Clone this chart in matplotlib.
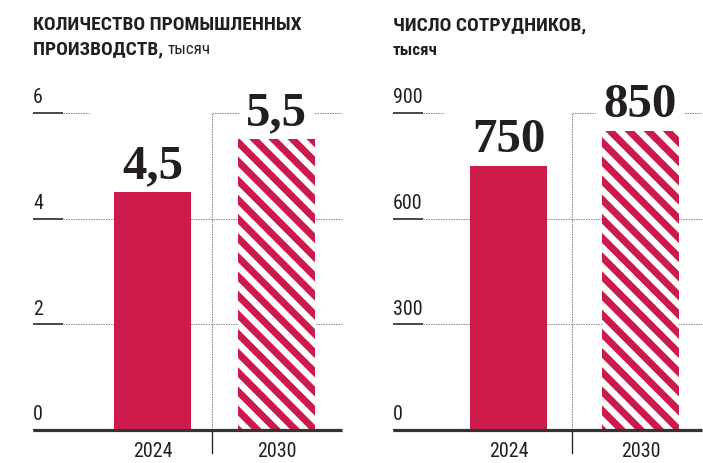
import matplotlib
matplotlib.use("Agg")
import matplotlib.pyplot as plt
from matplotlib.transforms import blended_transform_factory

# data
years = ["2024", "2030"]
plants = [4.5, 5.5]
plant_labels = ["4,5", "5,5"]
plant_ticks = [0, 2, 4, 6]
staff = [750, 850]
staff_labels = ["750", "850"]
staff_ticks = [0, 300, 600, 900]

RED = "#cc1a4a"
INK = "#231f20"
GRID = "#8a8a8a"
DPI = 115
W, H = 703, 463

COND = ["Roboto Condensed", "DejaVu Sans"]
SERIF = ["Liberation Serif", "DejaVu Serif"]

plt.rcParams["hatch.linewidth"] = 4.4
plt.rcParams["hatch.color"] = RED


def pt(px):
    return px * 72 / DPI


fig = plt.figure(figsize=(W / DPI, H / DPI), dpi=DPI)


def panel(x0, x1, c0, c1, values, labels, ticks, bar_px=77):
    # axes placed in pixel coordinates: axis line at y=430, top tick at y=113
    ax = fig.add_axes([x0 / W, (H - 430) / H, (x1 - x0) / W, (430 - 113) / H])
    scale = c1 - c0
    ax.set_xlim(-(c0 - x0) / scale, 1 + (x1 - c1) / scale)
    ax.set_ylim(0, ticks[-1])
    ax.axis("off")
    w = bar_px / scale
    xs = [0, 1]
    sep = 0.48

    tr = blended_transform_factory(ax.transAxes, ax.transData)
    seg = 30 / (x1 - x0)
    xl = ax.get_xlim()
    for t in ticks:
        ax.plot([0, seg], [t, t], transform=tr, color=INK, lw=pt(1.6),
                solid_capstyle="butt", clip_on=False, zorder=3)
        ax.text(0, t + ticks[-1] * 0.018, str(t), transform=tr, ha="left", va="bottom",
                fontsize=pt(20), color=INK, family=COND)
        if t == 0:
            continue
        if t == ticks[-1]:
            ax.plot([xl[0] + seg * (xl[1] - xl[0]), xs[0] - w / 2 - 0.2], [t, t],
                    color=GRID, lw=pt(1), ls=(0, (1.5, 1)), zorder=1, clip_on=False)
            ax.plot([sep, xl[1]], [t, t], color=GRID, lw=pt(1), ls=(0, (1.5, 1)),
                    zorder=1, clip_on=False)
        else:
            ax.plot([seg, 1], [t, t], transform=tr, color=GRID, lw=pt(1),
                    ls=(0, (1.5, 1)), zorder=1, clip_on=False)

    ax.bar(xs[0], values[0], width=w, color=RED, zorder=5)
    ax.bar(xs[1], values[1], width=w, facecolor="white", edgecolor=RED,
           linewidth=0, hatch="\\\\", zorder=5)

    for x, v, lab in zip(xs, values, labels):
        ax.annotate(lab, (x, v), xytext=(0, pt(14)), textcoords="offset points",
                    ha="center", va="baseline", fontsize=pt(49), fontweight="bold",
                    family=SERIF, color=INK, zorder=4,
                    bbox=dict(boxstyle="square,pad=0.15", fc="white", ec="none"))

    # separator between years
    ax.plot([sep, sep], [0, ticks[-1]], color=GRID, lw=pt(1), ls=(0, (1.5, 1)),
            zorder=1, clip_on=False)
    ax.plot([sep, sep], [0, -ticks[-1] * 23 / 317], color=INK, lw=pt(1.3),
            zorder=3, clip_on=False)
    # axis line
    ax.plot([0, 1], [0, 0], transform=tr, color="#333333", lw=pt(3.2),
            solid_capstyle="butt", zorder=6, clip_on=False)

    for x, yr in zip(xs, years):
        ax.text(x, -ticks[-1] * 12 / 317, yr, ha="center", va="top",
                fontsize=pt(20), color=INK, family=COND)
    return ax


panel(33, 342, 152.5, 276.5, plants, plant_labels, plant_ticks)
panel(393, 702, 508.5, 640.5, staff, staff_labels, staff_ticks)

# titles
TS = pt(19.5)
fig.text(33 / W, 1 - 30 / H, "КОЛИЧЕСТВО ПРОМЫШЛЕННЫХ", ha="left", va="baseline",
         fontsize=TS, fontweight="bold", color=INK, family=COND)
t = fig.text(33 / W, 1 - 54 / H, "ПРОИЗВОДСТВ, ", ha="left", va="baseline",
             fontsize=TS, fontweight="bold", color=INK, family=COND)
fig.canvas.draw()
bb = t.get_window_extent()
fig.text(bb.x1 / W, 1 - 54 / H, "тысяч", ha="left", va="baseline",
         fontsize=pt(17), color=INK, family=COND)
fig.text(393 / W, 1 - 30 / H, "ЧИСЛО СОТРУДНИКОВ,", ha="left", va="baseline",
         fontsize=TS, fontweight="bold", color=INK, family=COND)
fig.text(393 / W, 1 - 55 / H, "тысяч", ha="left", va="baseline",
         fontsize=pt(17), fontweight="bold", color=INK, family=COND)

fig.savefig("out.png", dpi=DPI)
